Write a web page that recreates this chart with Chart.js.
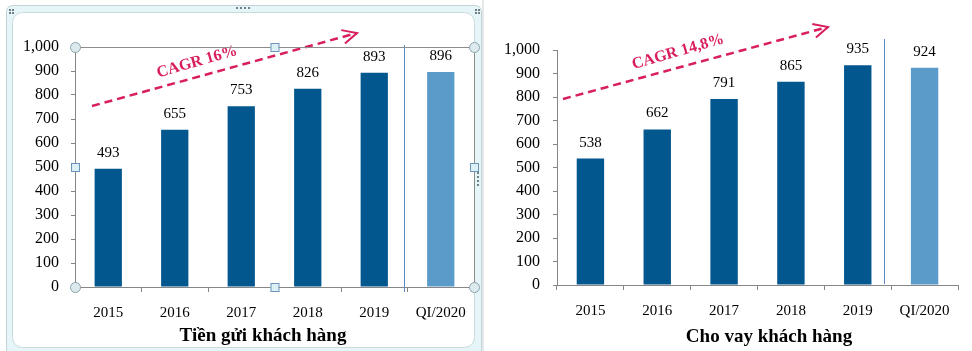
<!DOCTYPE html>
<html>
<head>
<meta charset="utf-8">
<script src="https://cdn.jsdelivr.net/npm/chart.js@4"></script>
<style>
html,body{margin:0;padding:0;background:#fff;overflow:hidden;}
#wrap{position:relative;width:972px;height:351px;}
#c1{position:absolute;left:0;top:0;}
#c2{position:absolute;left:482px;top:0;}
</style>
</head>
<body>
<div id="wrap">
<canvas id="c1" width="482" height="351"></canvas>
<canvas id="c2" width="490" height="351"></canvas>
</div>
<script>
const categories = ['2015', '2016', '2017', '2018', '2019', 'QI/2020'];
const depositValues = [493, 655, 753, 826, 893, 896];
const loanValues = [538, 662, 791, 865, 935, 924];
const yTicks = [0, 100, 200, 300, 400, 500, 600, 700, 800, 900, 1000];
const titles = ['Tiền gửi khách hàng', 'Cho vay khách hàng'];
const cagrLabels = ['CAGR 16%', 'CAGR 14,8%'];

const DARK = '#02578f';
const LIGHT = '#5b9bc9';
const AXIS = '#868686';
const RED = '#d81e5b';
const SERIF = '"Liberation Serif", "Times New Roman", serif';

function fmt(v){ return v.toLocaleString('en-US'); }

function makeChart(canvasId, values, opts){
  const decor = {
    id: 'decor' + canvasId,
    beforeDraw(chart){
      const ctx = chart.ctx;
      ctx.save();
      if (opts.frame){
        ctx.fillStyle = '#e6f5f7';
        ctx.strokeStyle = '#c3d2d6';
        ctx.lineWidth = 1;
        ctx.beginPath();
        ctx.roundRect(6.5, 5.5, 475, 350, 6);
        ctx.fill(); ctx.stroke();
        ctx.fillStyle = '#ffffff';
        ctx.strokeStyle = '#c9dadd';
        ctx.beginPath();
        ctx.roundRect(12.5, 12.5, 462, 335, 10);
        ctx.fill(); ctx.stroke();
        ctx.fillStyle = '#6f7f86';
        [[9,9],[12,9],[9,12],[12,12],[475,9],[478,9],[475,12],[478,12]].forEach(p=>ctx.fillRect(p[0],p[1],2,2));
        for (let i=0;i<4;i++) ctx.fillRect(236+i*4, 7, 2, 2);
        for (let i=0;i<4;i++) ctx.fillRect(477, 172+i*4, 2, 2);
      } else {
        ctx.fillStyle = '#e3e9eb';
        ctx.fillRect(0, 0, 2, 351);
      }
      ctx.restore();
    },
    afterDatasetsDraw(chart){
      const ctx = chart.ctx;
      const meta = chart.getDatasetMeta(0);
      const xs = chart.scales.x;
      const ca = chart.chartArea;
      ctx.save();
      ctx.fillStyle = '#000';
      ctx.font = '15px ' + SERIF;
      ctx.textAlign = 'center';
      ctx.textBaseline = 'alphabetic';
      meta.data.forEach((bar, i) => {
        ctx.fillText(fmt(values[i]), bar.x, bar.y - 12);
      });
      const sepX = Math.round((xs.getPixelForValue(4) + xs.getPixelForValue(5)) / 2 - opts.sepShift) + 0.5;
      ctx.strokeStyle = '#5b87c4';
      ctx.lineWidth = 1;
      ctx.beginPath();
      ctx.moveTo(sepX, opts.sepTop);
      ctx.lineTo(sepX, opts.sepBottom);
      ctx.stroke();
      const [x1, y1, x2, y2] = opts.arrow;
      ctx.strokeStyle = RED;
      ctx.lineWidth = 2.5;
      ctx.setLineDash([8, 5]);
      ctx.beginPath();
      ctx.moveTo(x1, y1); ctx.lineTo(x2, y2);
      ctx.stroke();
      ctx.setLineDash([]);
      const ang = Math.atan2(y2 - y1, x2 - x1);
      const hl = 16, ha = 0.45;
      ctx.lineWidth = 2;
      ctx.beginPath();
      ctx.moveTo(x2 - hl * Math.cos(ang - ha), y2 - hl * Math.sin(ang - ha));
      ctx.lineTo(x2, y2);
      ctx.lineTo(x2 - hl * Math.cos(ang + ha), y2 - hl * Math.sin(ang + ha));
      ctx.stroke();
      ctx.translate(opts.cagrPos[0], opts.cagrPos[1]);
      ctx.rotate(-16 * Math.PI / 180);
      ctx.fillStyle = RED;
      ctx.font = 'bold 16px ' + SERIF;
      ctx.textAlign = 'center';
      ctx.textBaseline = 'middle';
      ctx.fillText(opts.cagr, 0, 0);
      ctx.restore();

      ctx.save();
      ctx.fillStyle = '#000';
      ctx.font = 'bold 19px ' + SERIF;
      ctx.textAlign = 'center';
      ctx.textBaseline = 'alphabetic';
      ctx.fillText(opts.title, opts.titlePos[0], opts.titlePos[1]);
      ctx.restore();

      if (opts.frame){
        ctx.save();
        ctx.strokeStyle = '#8c8c8c';
        ctx.lineWidth = 1;
        ctx.beginPath();
        ctx.moveTo(ca.left + 0.5, ca.top + 0.5);
        ctx.lineTo(ca.right + 0.5, ca.top + 0.5);
        ctx.lineTo(ca.right + 0.5, ca.bottom + 0.5);
        ctx.stroke();
        const cx = (ca.left + ca.right) / 2, cy = (ca.top + ca.bottom) / 2;
        const circ = [[ca.left, ca.top],[ca.right, ca.top],[ca.left, ca.bottom],[ca.right, ca.bottom]];
        circ.forEach(p => {
          ctx.beginPath();
          ctx.arc(p[0] + 0.5, p[1] + 0.5, 5, 0, Math.PI * 2);
          ctx.fillStyle = '#dceaee'; ctx.fill();
          ctx.strokeStyle = '#8ea4ac'; ctx.stroke();
        });
        const sq = [[cx, ca.top],[cx, ca.bottom],[ca.left, cy],[ca.right, cy]];
        sq.forEach(p => {
          ctx.fillStyle = '#dcf0f8';
          ctx.fillRect(p[0] - 4, p[1] - 4, 8, 8);
          ctx.strokeStyle = '#6d93b8';
          ctx.strokeRect(p[0] - 3.5, p[1] - 3.5, 8, 8);
        });
        ctx.restore();
      }
    }
  };

  return new Chart(document.getElementById(canvasId), {
    type: 'bar',
    data: {
      labels: categories,
      datasets: [{
        data: values,
        backgroundColor: values.map((v, i) => i === values.length - 1 ? LIGHT : DARK),
        barPercentage: 0.41,
        categoryPercentage: 1.0,
        borderWidth: 0
      }]
    },
    options: {
      responsive: false,
      animation: false,
      devicePixelRatio: 1,
      layout: { padding: { left: 0, right: opts.padRight, top: opts.padTop, bottom: 0 } },
      plugins: { legend: { display: false }, tooltip: { enabled: false }, title: { display: false } },
      scales: {
        x: {
          offset: true,
          grid: { display: true, drawOnChartArea: false, offset: true, tickLength: 5, color: AXIS },
          border: { display: true, color: AXIS, width: 1 },
          ticks: { color: '#000', font: { family: SERIF, size: 15 }, padding: 12, maxRotation: 0, autoSkip: false },
          afterFit(scale){ scale.height = opts.xHeight; }
        },
        y: {
          min: 0, max: 1000,
          afterBuildTicks(scale){ scale.ticks = yTicks.map(v => ({ value: v })); },
          grid: { display: true, drawOnChartArea: false, tickLength: 4, color: AXIS },
          border: { display: true, color: AXIS, width: 1 },
          ticks: { color: '#000', font: { family: SERIF, size: 16 }, padding: opts.yPad, callback: v => fmt(v) },
          afterFit(scale){ scale.width = 75; }
        }
      }
    },
    plugins: [decor]
  });
}

makeChart('c1', depositValues, {
  frame: true, padRight: 8, padTop: 47, xHeight: 64, yPad: 12,
  sepTop: 45, sepBottom: 292, sepShift: 4,
  arrow: [92, 106, 357, 33], cagrPos: [197, 62], cagr: cagrLabels[0],
  title: titles[0], titlePos: [263, 341]
});
makeChart('c2', loanValues, {
  frame: false, padRight: 14, padTop: 50, xHeight: 66, yPad: 13,
  sepTop: 39, sepBottom: 284, sepShift: 7,
  arrow: [563 - 482, 99, 828 - 482, 27], cagrPos: [678 - 482, 52], cagr: cagrLabels[1],
  title: titles[1], titlePos: [769 - 482, 342]
});
</script>
</body>
</html>
